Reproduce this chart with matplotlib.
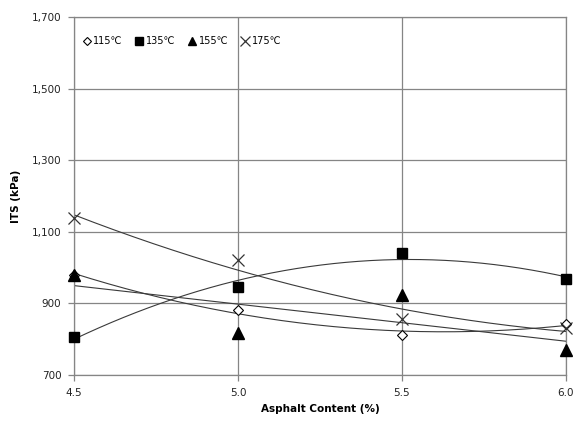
import matplotlib.pyplot as plt
import numpy as np

plt.rcParams['font.family'] = ['DejaVu Sans', 'Noto Sans CJK KR']

# asphalt content (%)
asphalt = [4.5, 5.0, 5.5, 6.0]

# ITS (kPa) per mixing temperature
its_115 = [980, 882, 812, 842]
its_135 = [806, 946, 1041, 968]
its_155 = [978, 817, 923, 770]
its_175 = [1138, 1021, 856, 831]

labels = ["115℃", "135℃", "155℃", "175℃"]
trend_deg = [2, 2, 1, 2]

yticks = [700, 900, 1100, 1300, 1500, 1700]
xticks = [4.5, 5.0, 5.5, 6.0]

series = [its_115, its_135, its_155, its_175]
styles = [
    dict(marker="D", ms=5.5, mfc="white", mec="black", mew=0.8),
    dict(marker="s", ms=7.5, mfc="black", mec="black"),
    dict(marker="^", ms=8, mfc="black", mec="black"),
    dict(marker="x", ms=9, mec="#333333", mew=0.9),
]

fig = plt.figure(figsize=(5.73, 4.26), dpi=100)
ax = fig.add_axes([74 / 573, 51 / 426, 492 / 573, 358 / 426])

grid_col = "#858585"
xs = np.linspace(asphalt[0], asphalt[-1], 200)
for vals, lab, st, deg in zip(series, labels, styles, trend_deg):
    coef = np.polyfit(asphalt, vals, deg)
    ax.plot(xs, np.polyval(coef, xs), color="#3a3a3a", lw=0.8, zorder=2)
    ax.plot(asphalt, vals, ls="none", label=lab, clip_on=False, zorder=3, **st)

ax.set_xlim(4.5, 6.0)
ax.set_ylim(700, 1700)
ax.set_xticks(xticks)
ax.set_xticklabels([f"{v:.1f}" for v in xticks])
ax.set_yticks(yticks)
ax.set_yticklabels([f"{v:,}" for v in yticks])
ax.grid(True, color=grid_col, lw=0.9)
ax.set_axisbelow(True)
for sp in ax.spines.values():
    sp.set_color(grid_col)
    sp.set_linewidth(0.9)
ax.tick_params(direction="out", length=4, width=0.9, color=grid_col,
               labelsize=7.5, labelcolor="#222222", pad=5)

ax.set_xlabel("Asphalt Content (%)", fontsize=7.5, fontweight="bold", labelpad=5)
ax.set_ylabel("ITS (kPa)", fontsize=7.5, fontweight="bold", labelpad=8)

leg = ax.legend(loc="upper left", bbox_to_anchor=(0.0, 0.97), ncol=4,
                frameon=False, fontsize=7, handlelength=0.8,
                handletextpad=0.25, columnspacing=1.35, markerscale=0.75)

fig.savefig("out.png", dpi=100)
plt.close()
